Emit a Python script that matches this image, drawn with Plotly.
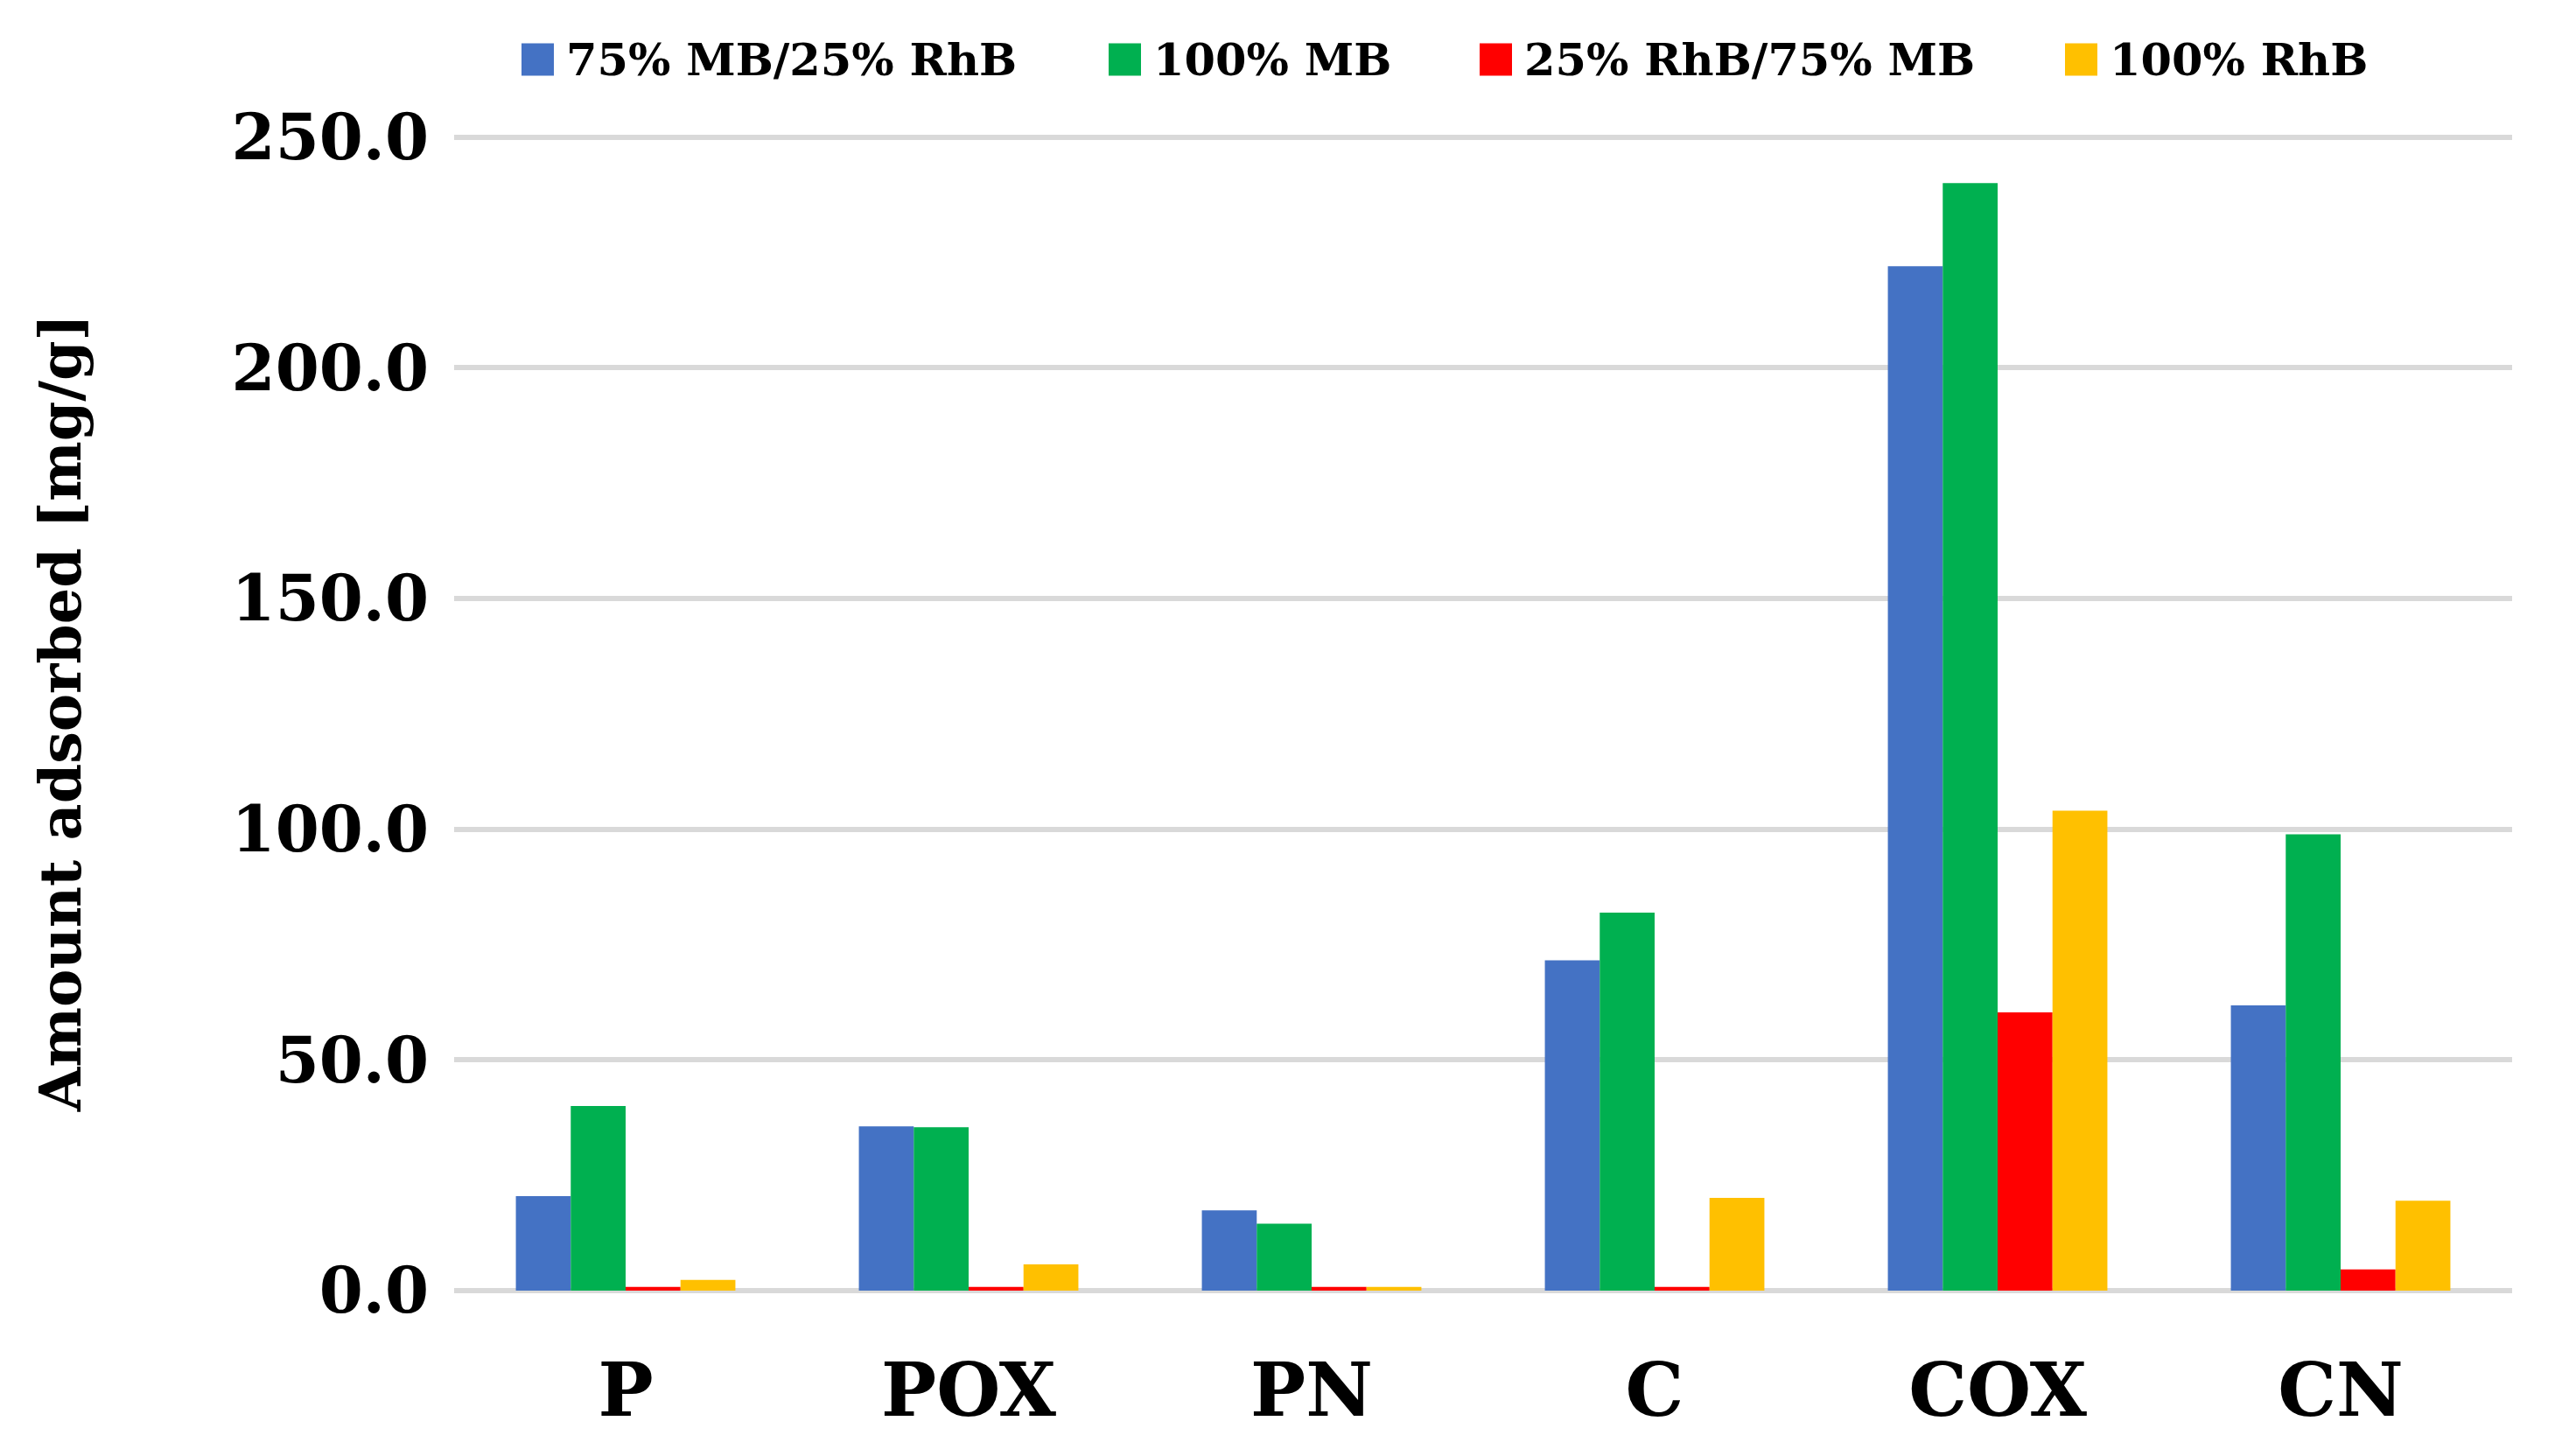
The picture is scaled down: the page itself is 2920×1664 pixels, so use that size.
import plotly.graph_objects as go

# ---- data ----
categories = ["P", "POX", "PN", "C", "COX", "CN"]
series_names = ["75% MB/25% RhB", "100% MB", "25% RhB/75% MB", "100% RhB"]
mb75_rhb25 = [20.5, 35.6, 17.4, 71.6, 222.0, 61.8]
mb100 = [40.0, 35.4, 14.5, 81.9, 240.0, 98.9]
rhb25_mb75 = [0.8, 0.8, 0.8, 0.8, 60.3, 4.6]
rhb100 = [2.3, 5.7, 0.8, 20.1, 104.0, 19.5]
y_ticks = [0, 50, 100, 150, 200, 250]

series_values = [mb75_rhb25, mb100, rhb25_mb75, rhb100]
colors = ["#4472C4", "#00B050", "#FF0000", "#FFC000"]

W, H = 2920, 1664
ML, MR, MT, MB = 511, 57, 146, 197
FONT = "DejaVu Serif"
Y_MAX = 250.5

fig = go.Figure()
for name, vals, col in zip(series_names, series_values, colors):
    fig.add_trace(go.Bar(
        x=categories, y=vals, name=name,
        marker=dict(color=col, line=dict(width=0)),
        showlegend=False,
    ))

# custom legend (large square swatches like the reference)
plot_w = W - ML - MR
plot_h = H - MT - MB
def px2x(px):
    return (px - ML) / plot_w
def py2y(py):
    return (H - MB - py) / plot_h

legend_left = [588, 1259, 1683, 2352]
sq = 37
leg_cy = 60
shapes = []
annotations = []
for lx, name, col in zip(legend_left, series_names, colors):
    shapes.append(dict(type="rect", xref="paper", yref="paper",
                       x0=px2x(lx), x1=px2x(lx + sq),
                       y0=py2y(leg_cy + sq / 2), y1=py2y(leg_cy - sq / 2),
                       fillcolor=col, line=dict(width=0), layer="above"))
    annotations.append(dict(xref="paper", yref="paper",
                            x=px2x(lx + 49), y=py2y(leg_cy),
                            xanchor="left", yanchor="middle",
                            text=name, showarrow=False,
                            font=dict(family=FONT, size=51, color="black", weight="bold")))

fig.update_layout(
    width=W, height=H,
    margin=dict(l=ML, r=MR, t=MT, b=MB),
    paper_bgcolor="white", plot_bgcolor="white",
    barmode="group", bargap=0.36, bargroupgap=0.0,
    shapes=shapes, annotations=annotations,
    showlegend=False,
)
fig.update_xaxes(
    tickfont=dict(family=FONT, size=84, color="black", weight="bold"),
    showgrid=False, zeroline=False, showline=False, ticks="",
    ticklabelstandoff=58,
)
fig.update_yaxes(
    range=[0, Y_MAX], tickvals=y_ticks, tickformat=".1f",
    tickfont=dict(family=FONT, size=72, color="black", weight="bold"),
    showgrid=True, gridcolor="#D9D9D9", gridwidth=6,
    zeroline=True, zerolinecolor="#D9D9D9", zerolinewidth=6,
    showline=False, ticks="", ticklabelstandoff=28,
    title=dict(text="Amount adsorbed [mg/g]", standoff=150,
               font=dict(family=FONT, size=65, color="black", weight="bold")),
)

fig.write_html("out.html")
